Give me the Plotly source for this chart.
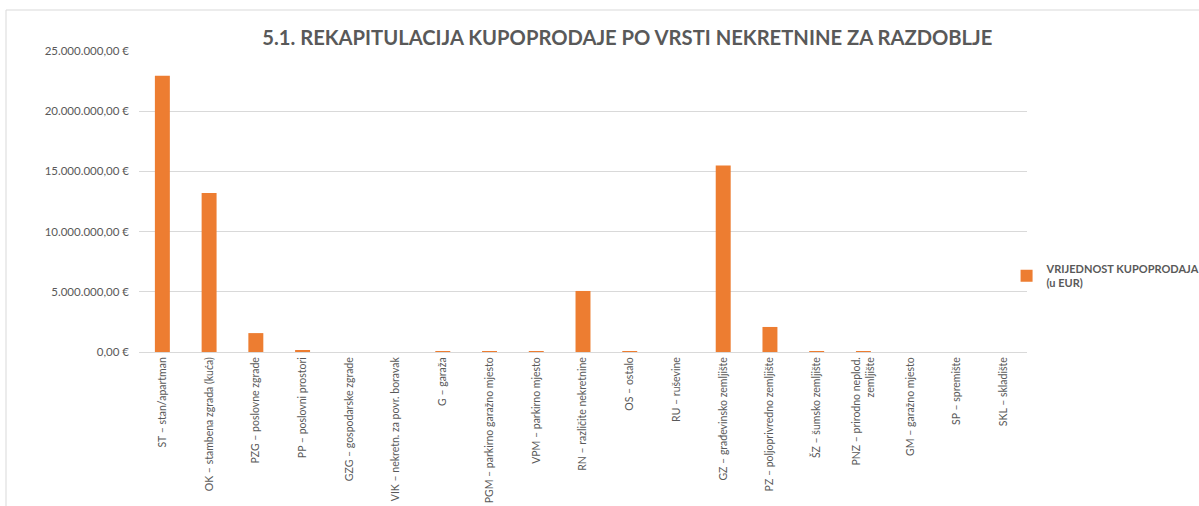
import plotly.graph_objects as go

categories = [
    "ST – stan/apartman",
    "OK – stambena zgrada (kuća)",
    "PZG – poslovne zgrade",
    "PP – poslovni prostori",
    "GZG – gospodarske zgrade",
    "VIK – nekretn. za povr. boravak",
    "G – garaža",
    "PGM – parkirno garažno mjesto",
    "VPM – parkirno mjesto",
    "RN – različite nekretnine",
    "OS – ostalo",
    "RU – ruševine",
    "GZ – građevinsko zemljište",
    "PZ – poljoprivredno zemljište",
    "ŠZ – šumsko zemljište",
    "PNZ – prirodno neplod.<br>zemljište",
    "GM – garažno mjesto",
    "SP – spremište",
    "SKL – skladište",
]
values = [
    22950000, 13200000, 1570000, 110000, 0, 0, 70000, 30000, 30000,
    5070000, 30000, 0, 15500000, 2080000, 30000, 30000, 0, 0, 0,
]
series_name = "VRIJEDNOST KUPOPRODAJA<br>(u EUR)"
y_tickvals = [0, 5000000, 10000000, 15000000, 20000000, 25000000]
y_ticktext = ["0,00 €", "5.000.000,00 €", "10.000.000,00 €", "15.000.000,00 €",
              "20.000.000,00 €", "25.000.000,00 €"]
title_text = "5.1. REKAPITULACIJA KUPOPRODAJE PO VRSTI NEKRETNINE ZA RAZDOBLJE"

TXT = "#595959"
FONT = "Lato"

fig = go.Figure()
fig.add_trace(go.Bar(
    x=list(range(len(categories))), y=values, name=series_name,
    marker=dict(color="#ED7D31", line=dict(width=0)),
    showlegend=True,
))

fig.update_layout(
    width=1199, height=506,
    margin=dict(l=139, r=172, t=51, b=154, autoexpand=False),
    paper_bgcolor="white", plot_bgcolor="white",
    font=dict(family=FONT, color=TXT, size=10),
    bargap=0.68,
    title=dict(text="<b>" + title_text + "</b>", x=0.5232, xanchor="center",
               y=1 - 38 / 506, yanchor="middle",
               font=dict(family=FONT, size=20.2, color=TXT)),
    xaxis=dict(
        tickmode="array", tickvals=list(range(len(categories))), ticktext=categories,
        tickangle=-90, range=[-0.5, len(categories) - 0.5],
        showgrid=False, showline=True, linecolor="#D9D9D9", linewidth=1,
        ticks="", tickfont=dict(family=FONT, size=10.5, color=TXT),
        automargin=False, fixedrange=True,
    ),
    yaxis=dict(
        range=[0, 25000000], tickmode="array", tickvals=y_tickvals, ticktext=y_ticktext,
        showgrid=True, gridcolor="#D9D9D9", gridwidth=1, zeroline=False,
        showline=False, ticks="", ticklabelstandoff=9,
        tickfont=dict(family=FONT, size=11.5, color=TXT), automargin=False,
    ),
    legend=dict(
        x=0.977, y=0.2525, xanchor="left", yanchor="middle",
        font=dict(family=FONT, size=11, color=TXT, weight="bold"),
        bgcolor="rgba(0,0,0,0)", itemwidth=30,
    ),
    shapes=[dict(
        type="rect", xref="paper", yref="paper",
        x0=(6 - 139) / 888, x1=(1210 - 139) / 888,
        y0=(352 - 520) / 301, y1=(352 - 10) / 301,
        line=dict(color="#D9D9D9", width=1), fillcolor="rgba(0,0,0,0)", layer="below",
    )],
)

fig.write_html("out.html", config={"displayModeBar": False},
               post_script="document.body.style.margin='0';")
